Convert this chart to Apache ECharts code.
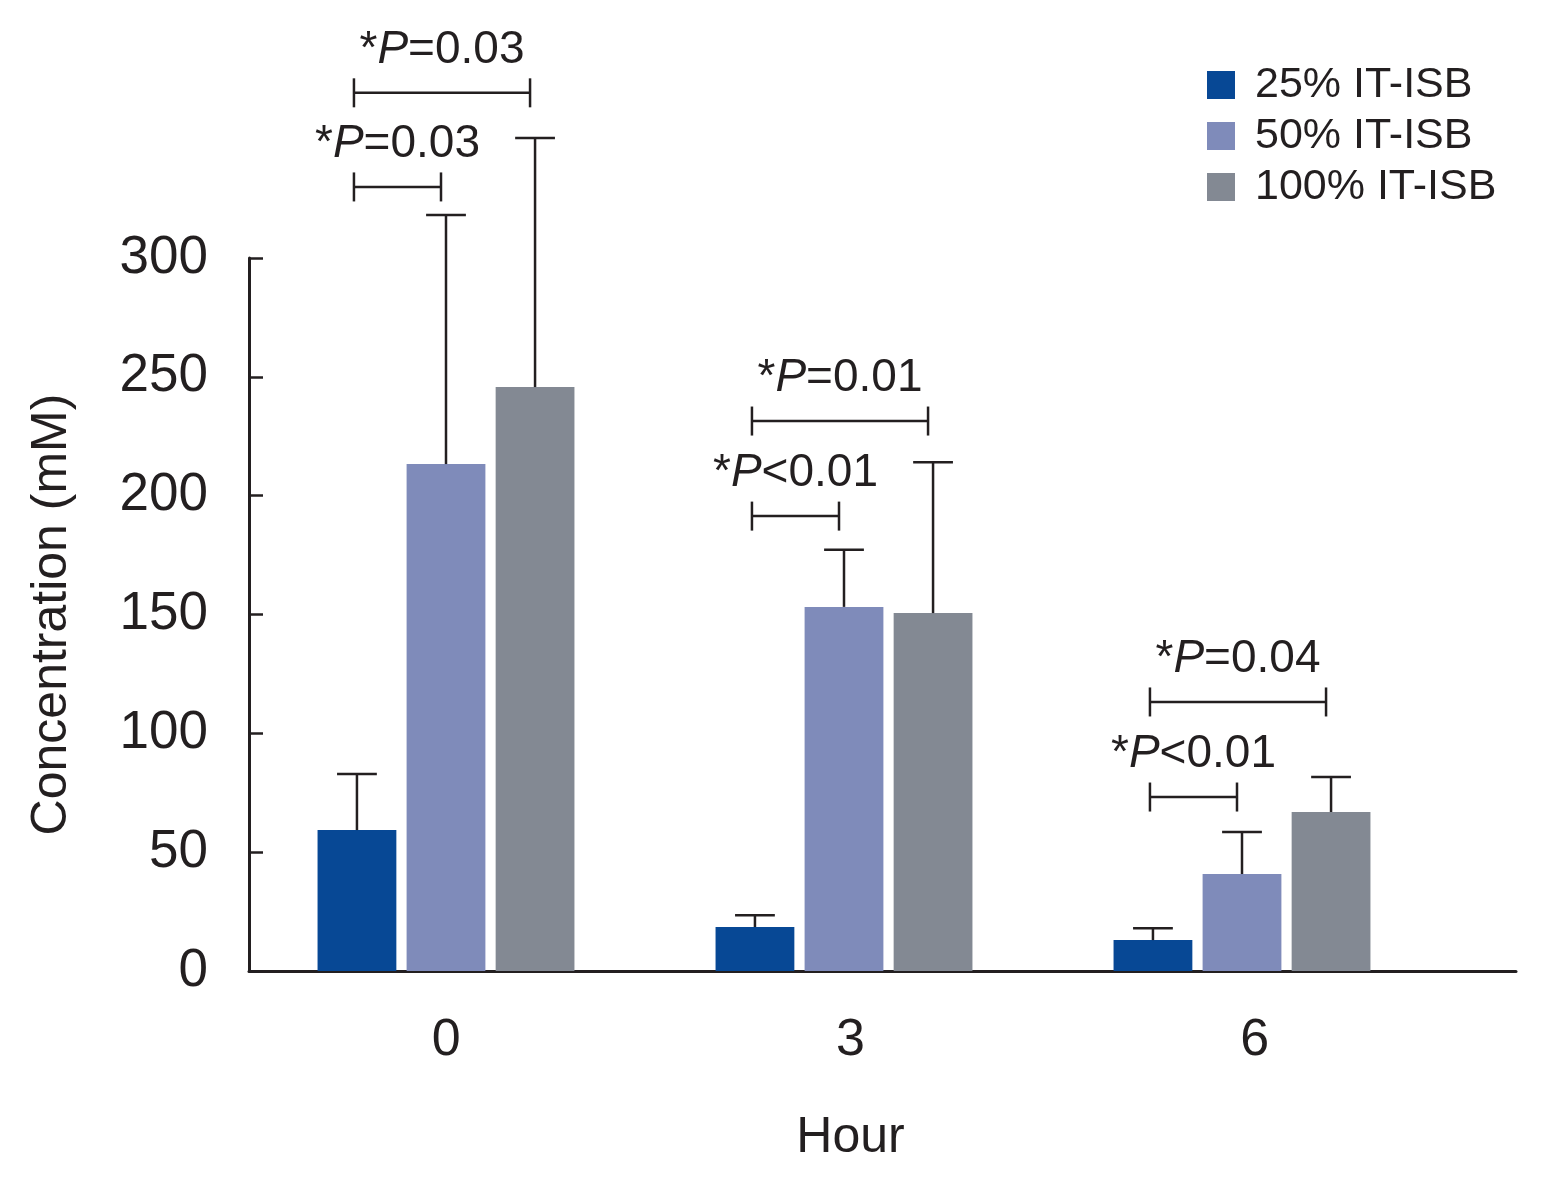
<!DOCTYPE html>
<html><head><meta charset="utf-8">
<script src="https://cdn.jsdelivr.net/npm/echarts@6/dist/echarts.min.js"></script>
<style>html,body{margin:0;padding:0;background:#fff}#c{width:1547px;height:1186px}</style>
</head><body><div id="c"></div>
<script>
// ---- data ----
const categories = ['0', '3', '6'];
const seriesNames = ['25% IT-ISB', '50% IT-ISB', '100% IT-ISB'];
const mean25 = [59.3, 18.5, 13.0];
const mean50 = [213.3, 153.2, 40.8];
const mean100 = [245.7, 150.6, 66.9];
const sd25 = [23.6, 5.0, 5.0];
const sd50 = [104.8, 24.0, 17.7];
const sd100 = [104.8, 63.5, 14.7];
const yMin = 0, yMax = 300, yStep = 50;
// significance brackets
const bracketCat = [0, 0, 1, 1, 2, 2];
const bracketFrom = [0, 0, 0, 0, 0, 0];
const bracketTo = [2, 1, 2, 1, 2, 1];
const bracketLevel = [369.5, 329.9, 231.4, 191.4, 113.2, 73.2];
const bracketOp = ['=', '=', '=', '<', '=', '<'];
const bracketP = ['0.03', '0.03', '0.01', '0.01', '0.04', '0.01'];

// ---- style ----
const FONT = "'Liberation Sans', Arial, Helvetica, sans-serif";
const INK = '#231f20';
const colors = ['#074895', '#7f8bba', '#838993'];
const BAR_FRAC = 0.198;  // bar width as fraction of band
const GAP_FRAC = 0.13;   // gap as fraction of bar width

const means = [mean25, mean50, mean100];
const sds = [sd25, sd50, sd100];

function barOffset(api, s) {
  const band = api.size([1, 0])[0];
  return (s - 1) * band * BAR_FRAC * (1 + GAP_FRAC);
}

const errData = [];
for (let s = 0; s < 3; s++) {
  for (let c = 0; c < categories.length; c++) {
    errData.push([c, s, means[s][c], means[s][c] + sds[s][c]]);
  }
}
const brData = bracketCat.map((c, i) => [c, bracketFrom[i], bracketTo[i], bracketLevel[i], i]);

const chart = echarts.init(document.getElementById('c'), null, {renderer: 'canvas'});
const option = {
  animation: false,
  backgroundColor: '#fff',
  textStyle: {fontFamily: FONT, color: INK},
  grid: [
    {left: 247, top: 258, width: 1194, height: 713, outerBoundsMode: 'none', containLabel: false},
    {left: 249, top: 258, width: 1267, height: 713, outerBoundsMode: 'none', containLabel: false},
    {left: 244, top: 258, width: 1213, height: 713, outerBoundsMode: 'none', containLabel: false}
  ],
  legend: {
    orient: 'vertical', left: 1202, top: 58.5,
    itemWidth: 28, itemHeight: 28, itemGap: 8, icon: 'rect',
    data: seriesNames,
    textStyle: {fontSize: 43, color: INK, fontFamily: FONT, padding: [0, 0, 0, 15], lineHeight: 43}
  },
  xAxis: [
    {
      type: 'category', gridIndex: 0, data: categories,
      axisLine: {show: false}, axisTick: {show: false}, axisLabel: {show: false},
      splitLine: {show: false}
    },
    {
      type: 'value', gridIndex: 1, min: 0, max: 1,
      axisLine: {show: true, lineStyle: {color: INK, width: 3}},
      axisTick: {show: false}, axisLabel: {show: false}, splitLine: {show: false}
    },
    {
      type: 'category', gridIndex: 2, data: categories,
      axisLine: {show: false}, axisTick: {show: false},
      axisLabel: {fontSize: 52, color: INK, margin: 44, fontFamily: FONT},
      splitLine: {show: false},
      name: 'Hour', nameLocation: 'middle', nameGap: 142,
      nameTextStyle: {fontSize: 50, color: INK, fontFamily: FONT}
    }
  ],
  yAxis: [
    {type: 'value', gridIndex: 0, min: yMin, max: yMax, interval: yStep, show: false},
    {
      type: 'value', gridIndex: 1, min: yMin, max: yMax, interval: yStep,
      axisLine: {show: true, lineStyle: {color: INK, width: 3}},
      axisTick: {show: true, inside: true, length: 14, lineStyle: {color: INK, width: 2.5}},
      axisLabel: {fontSize: 53, color: INK, margin: 41, fontFamily: FONT},
      splitLine: {show: false},
      name: 'Concentration (mM)', nameLocation: 'middle', nameGap: 172,
      nameTextStyle: {fontSize: 50, color: INK, fontFamily: FONT}
    },
    {type: 'value', gridIndex: 2, min: yMin, max: yMax, show: false}
  ],
  series: [
    ...seriesNames.map((n, s) => ({
      name: n, type: 'bar', xAxisIndex: 0, yAxisIndex: 0,
      data: means[s], barWidth: (BAR_FRAC * 100) + '%', barGap: (GAP_FRAC * 100) + '%',
      itemStyle: {color: colors[s], borderWidth: 0}
    })),
    {
      type: 'custom', xAxisIndex: 0, yAxisIndex: 0, clip: false, silent: true,
      encode: {x: 0, y: 3}, z: 5,
      data: errData,
      renderItem(params, api) {
        const c = api.value(0), s = api.value(1);
        const base = api.coord([c, api.value(2)]);
        const top = api.coord([c, api.value(3)]);
        const x = base[0] + barOffset(api, s);
        const hw = api.size([1, 0])[0] * 0.05;
        const st = {stroke: INK, lineWidth: 2.5};
        return {type: 'group', children: [
          {type: 'line', shape: {x1: x, y1: base[1], x2: x, y2: top[1]}, style: st},
          {type: 'line', shape: {x1: x - hw, y1: top[1], x2: x + hw, y2: top[1]}, style: st}
        ]};
      }
    },
    {
      type: 'custom', xAxisIndex: 0, yAxisIndex: 0, clip: false, silent: true,
      encode: {x: 0, y: 3}, z: 5,
      data: brData,
      renderItem(params, api) {
        const c = api.value(0), f = api.value(1), t = api.value(2);
        const i = api.value(4);
        const p = api.coord([c, api.value(3)]);
        const x1 = p[0] + barOffset(api, f) - 3;
        const x2 = p[0] + barOffset(api, t) - 5;
        const y = p[1];
        const th = 14.5;
        const st = {stroke: INK, lineWidth: 2.5};
        return {type: 'group', children: [
          {type: 'line', shape: {x1: x1, y1: y, x2: x2, y2: y}, style: st},
          {type: 'line', shape: {x1: x1, y1: y - th, x2: x1, y2: y + th}, style: st},
          {type: 'line', shape: {x1: x2, y1: y - th, x2: x2, y2: y + th}, style: st},
          {type: 'text', x: (x1 + x2) / 2, y: y - 43, style: {
            text: '{n|*}{i|P}{n|' + bracketOp[i] + bracketP[i] + '}',
            align: 'center', verticalAlign: 'middle',
            textAlign: 'center', textVerticalAlign: 'middle',
            fill: INK,
            rich: {
              n: {fontSize: 46, fontFamily: FONT, fill: INK, color: INK},
              i: {fontSize: 46, fontFamily: FONT, fontStyle: 'italic', fill: INK, color: INK}
            }
          }}
        ]};
      }
    }
  ]
};
chart.setOption(option);
</script>
</body></html>
